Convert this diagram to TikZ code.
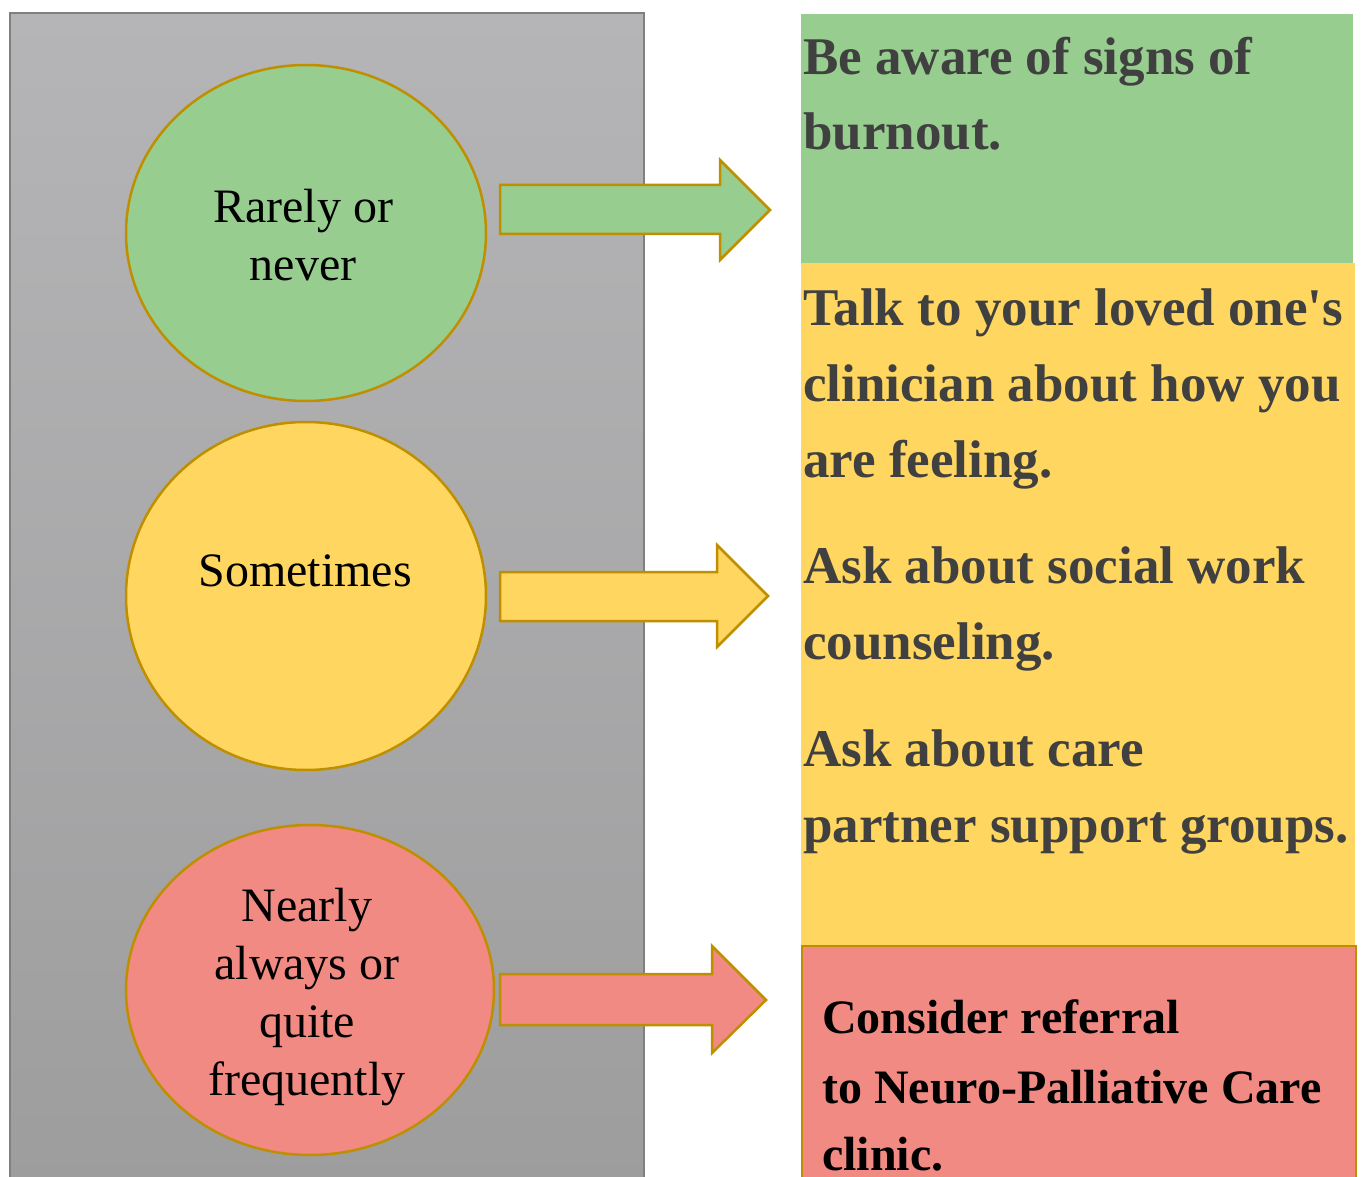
\documentclass[tikz,border=0pt]{standalone}
\usepackage{fontspec}
\setmainfont{Liberation Serif}
\usetikzlibrary{shapes.geometric}

\definecolor{leafgreen}{HTML}{97CD8F}
\definecolor{sunyellow}{HTML}{FFD65F}
\definecolor{salmonred}{HTML}{F08A82}
\definecolor{goldline}{HTML}{BF8F00}
\definecolor{inkgray}{HTML}{404040}
\definecolor{paneltop}{HTML}{B5B5B7}
\definecolor{panelbottom}{HTML}{9D9D9E}

\tikzset{
  bubble/.style={ellipse,draw=goldline,line width=2.5pt,inner sep=0pt},
  answer/.style={inner sep=0pt,align=center,text=black,
    font=\fontsize{48}{58}\selectfont},
  tip/.style={draw=goldline,line width=2.5pt,line join=miter},
  advice/.style={anchor=base west,inner sep=0pt,text=inkgray,
    font=\fontsize{53}{75}\selectfont\bfseries},
  referral/.style={anchor=base west,inner sep=0pt,text=black,
    font=\fontsize{48}{69}\selectfont\bfseries}
}

\begin{document}
\begin{tikzpicture}[x=1pt,y=-1pt]
\useasboundingbox (0,0) rectangle (1366,1177);
\shade[top color=paneltop,bottom color=panelbottom] (10,13) rectangle (644,1190);
\draw[gray,line width=1.5pt] (10,1190) -- (10,13) -- (644,13) -- (644,1190);

% the three answers
\node[bubble,fill=leafgreen,minimum width=360pt,minimum height=336pt] (rare) at (306,233) {};
\node[bubble,fill=sunyellow,minimum width=360pt,minimum height=348pt] (some) at (306,596) {};
\node[bubble,fill=salmonred,minimum width=368pt,minimum height=330pt] (often) at (310,990) {};
\node[answer] (raretxt) at (303,235) {Rarely or\\never};
\node[answer] (sometxt) at (305,571) {Sometimes};
\node[answer] (oftentxt) at (307,997) {Nearly\\always or\\quite\\frequently};

% block arrows
\draw[tip,fill=leafgreen] (500,185) -- (720,185) -- (720,160) -- (770,210) -- (720,260) -- (720,234) -- (500,234) -- cycle;
\draw[tip,fill=sunyellow] (500,572) -- (717,572) -- (717,545) -- (768,596) -- (717,647) -- (717,621) -- (500,621) -- cycle;
\draw[tip,fill=salmonred] (500,974) -- (712,974) -- (712,946) -- (766,1000) -- (712,1053) -- (712,1025) -- (500,1025) -- cycle;

% advice boxes
\fill[leafgreen] (801,14) rectangle (1353,263);
\fill[sunyellow] (801,263) rectangle (1355,946);
\draw[goldline,line width=2.5pt,fill=salmonred] (802,1190) -- (802,946) -- (1356,946) -- (1356,1190);

\foreach \txt/\yy [count=\i] in {Be aware of signs of/75,burnout./150}
  \node[advice] (green\i) at (803,\yy) {\txt};
\foreach \txt/\yy [count=\i] in {Talk to your loved one\textquotesingle s/325,clinician about how you/401,are feeling./477,
    Ask about social work/583,counseling./659,Ask about care/766,partner support groups./842}
  \node[advice] (yellow\i) at (803,\yy) {\txt};
\foreach \txt/\yy [count=\i] in {Consider referral/1033,to Neuro-Palliative Care/1103,clinic./1170}
  \node[referral] (red\i) at (822,\yy) {\txt};
\end{tikzpicture}
\end{document}
